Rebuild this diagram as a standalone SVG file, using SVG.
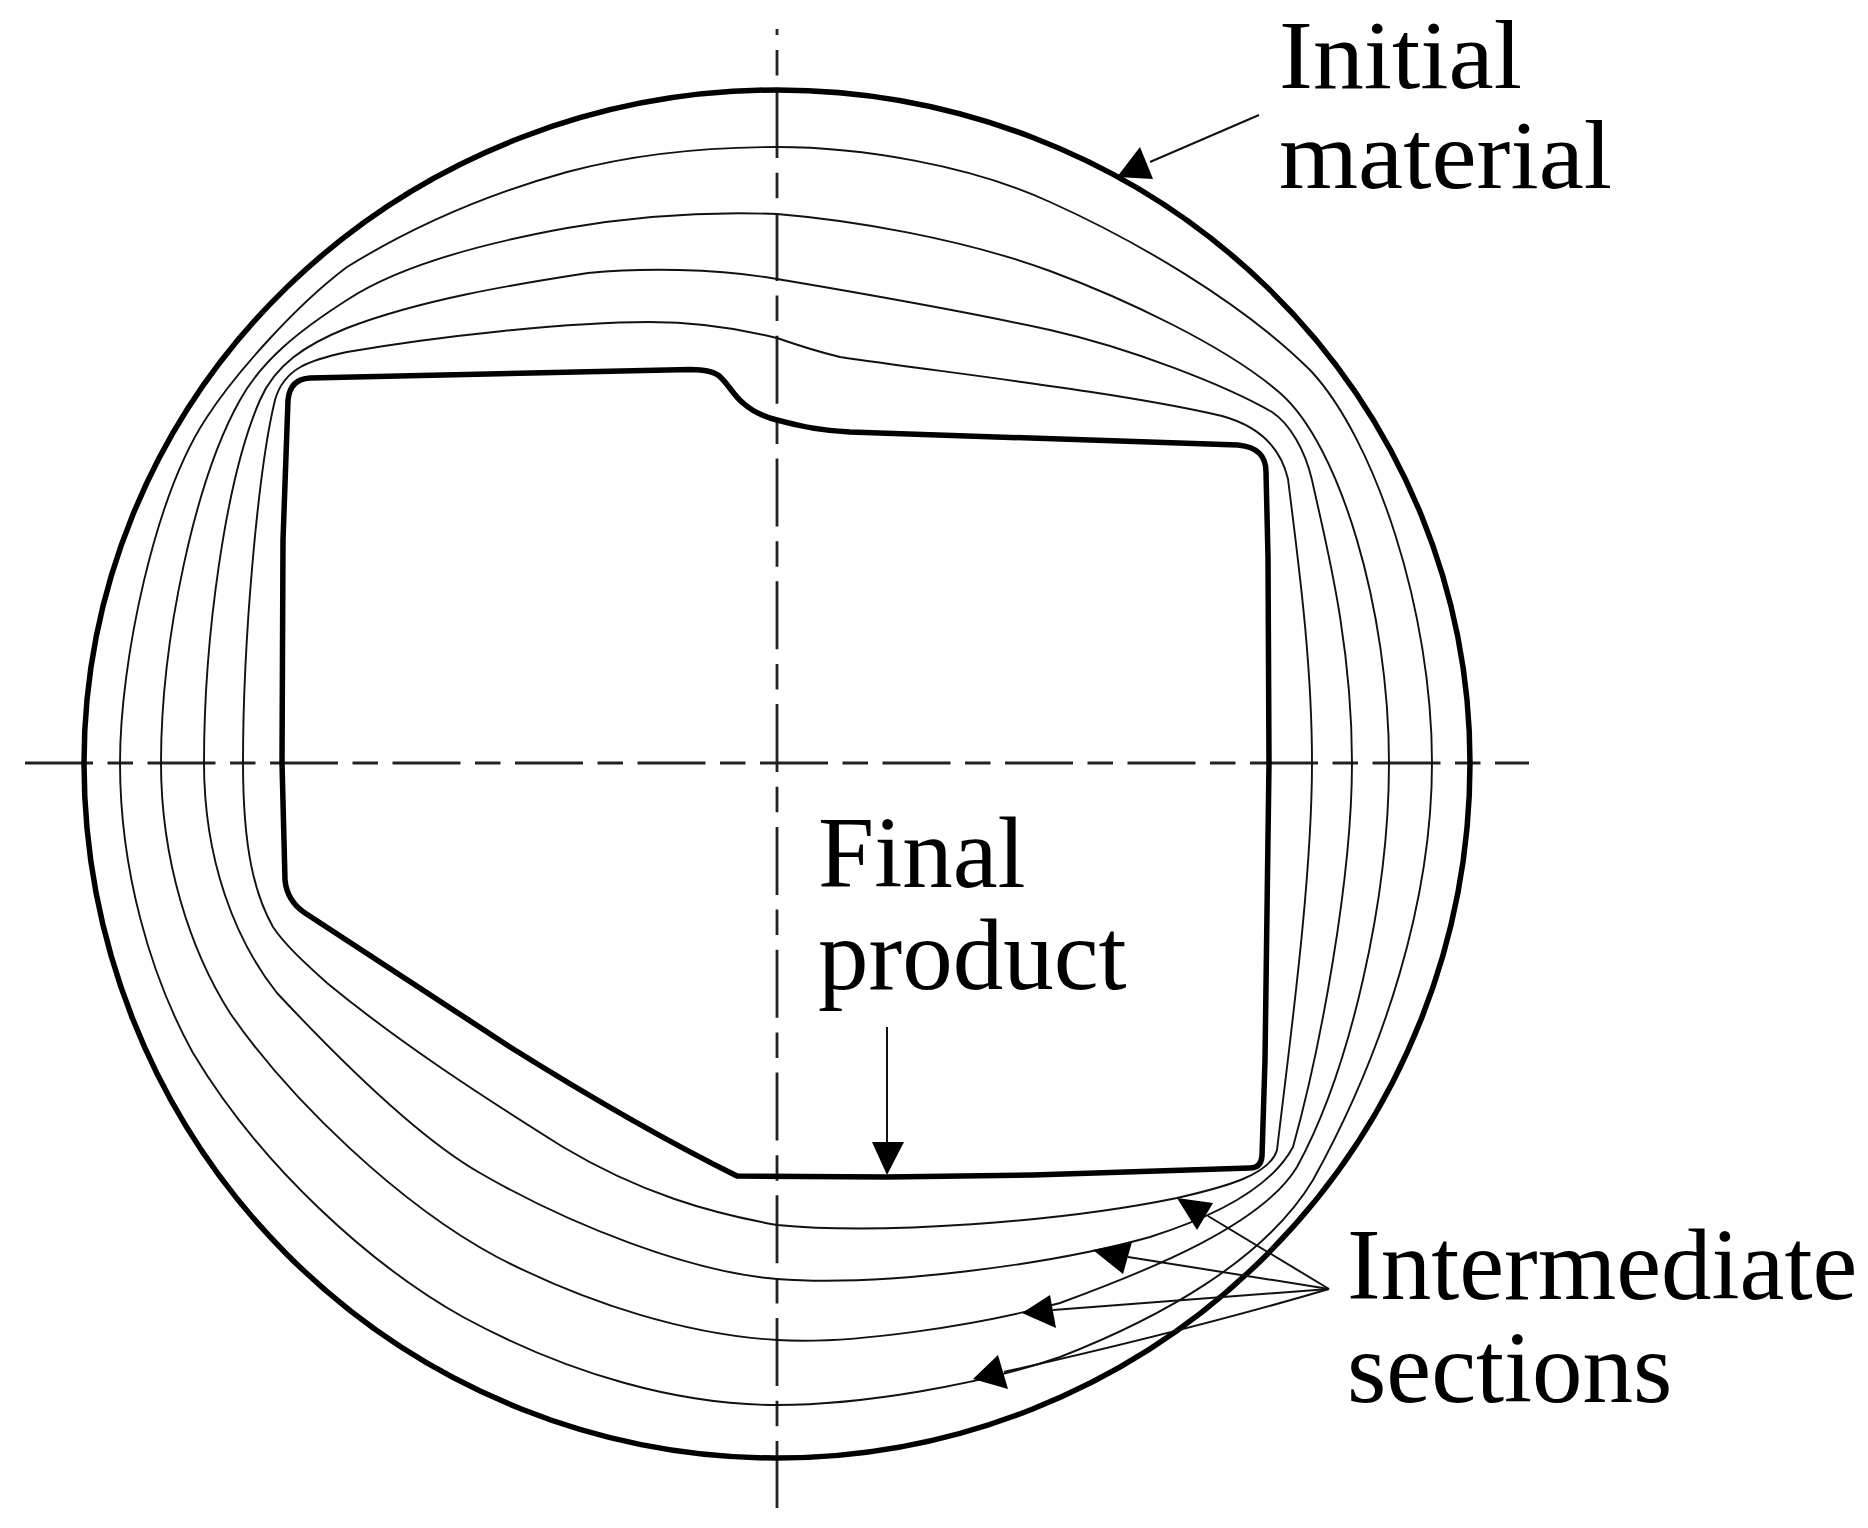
<svg xmlns="http://www.w3.org/2000/svg" width="1868" height="1528" viewBox="0 0 1868 1528">
<style>
.thick{fill:none;stroke:#000;stroke-width:5.5;stroke-linejoin:round}
.thin{fill:none;stroke:#111;stroke-width:1.9;stroke-linejoin:round}
.axis{fill:none;stroke:#222;stroke-width:2.8}
.lead{fill:none;stroke:#111;stroke-width:2}
.head{fill:#000;stroke:none}
text{font-family:"Liberation Serif","Times New Roman",serif;fill:#000}
.a{font-size:98px}
.b{font-size:101px}
</style>
<rect width="1868" height="1528" fill="#fff"/>
<g id="axes">
<path class="axis" d="M777 29V35"/>
<path class="axis" d="M777 50V1508" stroke-dasharray="25.5 14.6 68 14.7"/>
<path class="axis" d="M25 763H1529" stroke-dasharray="68 14.5 25.5 14.5"/>
</g>
<g id="initial-material">
<path class="thick" d="M777 90A693 673 0 0 1 1470 763A693 695 0 0 1 777 1458A693 695 0 0 1 84 763A693 673 0 0 1 777 90Z"/>
</g>
<g id="intermediate-sections">
<path class="thin" d="M120 763C120 660 155 495 207 417C235 374 295 306 347 267C420 222 495 192 567 172C630 155 700 147 777 147C860 147 970 165 1050 202C1130 238 1240 300 1311 371C1375 440 1432 610 1432 763C1432 900 1385 1050 1313 1180C1265 1260 1160 1318 1060 1357C980 1385 860 1405 777 1405C680 1405 570 1375 463 1317C370 1265 260 1165 193 1053C150 975 120 870 120 763Z"/>
<path class="thin" d="M161 763C161 640 195 480 240 400C262 360 300 330 347 300C400 265 490 242 567 228C625 218 700 211 777 214C850 220 960 238 1050 271C1120 297 1225 345 1280 393C1340 445 1389 610 1389 763C1389 900 1350 1070 1297 1167C1262 1225 1150 1270 1060 1303C980 1325 850 1345 777 1340C690 1335 590 1305 497 1257C400 1205 290 1100 230 1013C190 950 161 860 161 763Z"/>
<path class="thin" d="M204 763C204 640 225 480 260 400C275 365 305 345 347 328C420 300 510 285 588 273C640 268 715 268 777 279C830 288 950 308 1050 330C1130 348 1225 385 1272 412C1290 424 1305 450 1312 480C1325 540 1352 640 1352 763C1352 880 1320 1050 1293 1147C1270 1190 1210 1218 1150 1237C1050 1265 880 1287 777 1279C690 1272 570 1225 480 1173C415 1136 335 1055 277 993C235 940 204 860 204 763Z"/>
<path class="thin" d="M243 763C243 640 258 470 275 400C284 368 310 360 347 352C440 336 570 322 649 322C700 322 745 330 777 338C800 346 815 351 840 357C940 372 1120 392 1222 416C1255 425 1280 445 1288 479C1298 560 1312 660 1312 763C1312 880 1290 1040 1277 1150C1270 1175 1225 1187 1177 1198C1060 1222 880 1235 777 1225C710 1213 640 1193 563 1147C480 1095 400 1043 327 983C305 963 285 945 273 927C255 895 243 850 243 763Z"/>
</g>
<g id="final-product">
<path class="thick" d="M310 378L690 369.5C705 370 712 371 718 375C728 383 733 395 743 403C753 412 765 417 777 420C795 425 815 430 850 432L1238 445C1258 447 1266 456 1266 472L1268 557L1269 763L1265 1060L1262 1156Q1261 1168 1250 1168L1033 1175L887 1177L737 1176C660 1138 590 1097 510 1047L305 913Q287 901 285 880L282 763L283 540L288 400Q290 379 310 378Z"/>
</g>
<g id="connectors">
<path class="lead" d="M1259 115L1150 162"/>
<polygon class="head" points="1117,177 1140,147 1153,179"/>
<path class="lead" d="M887 1027V1145"/>
<polygon class="head" points="872,1142 904,1142 887,1175"/>
<path class="lead" d="M1329 1289L1208 1216"/>
<polygon class="head" points="1177,1198 1213,1203 1197,1230"/>
<path class="lead" d="M1329 1289L1128 1257"/>
<polygon class="head" points="1093,1250 1132,1242 1123,1274"/>
<path class="lead" d="M1329 1289L1053 1310"/>
<polygon class="head" points="1022,1313 1050,1295 1056,1328"/>
<path class="lead" d="M1329 1289Q1190 1330 1004 1372"/>
<polygon class="head" points="973,1379 998,1355 1008,1389"/>
</g>
<g id="labels">
<text class="a" x="1279" y="88" textLength="243" lengthAdjust="spacingAndGlyphs">Initial</text>
<text class="a" x="1279" y="188" textLength="333" lengthAdjust="spacingAndGlyphs">material</text>
<text class="b" x="818" y="887">Final</text>
<text class="b" x="818" y="989">product</text>
<text class="b" x="1347" y="1299">Intermediate</text>
<text class="b" x="1347" y="1402">sections</text>
</g>
</svg>
